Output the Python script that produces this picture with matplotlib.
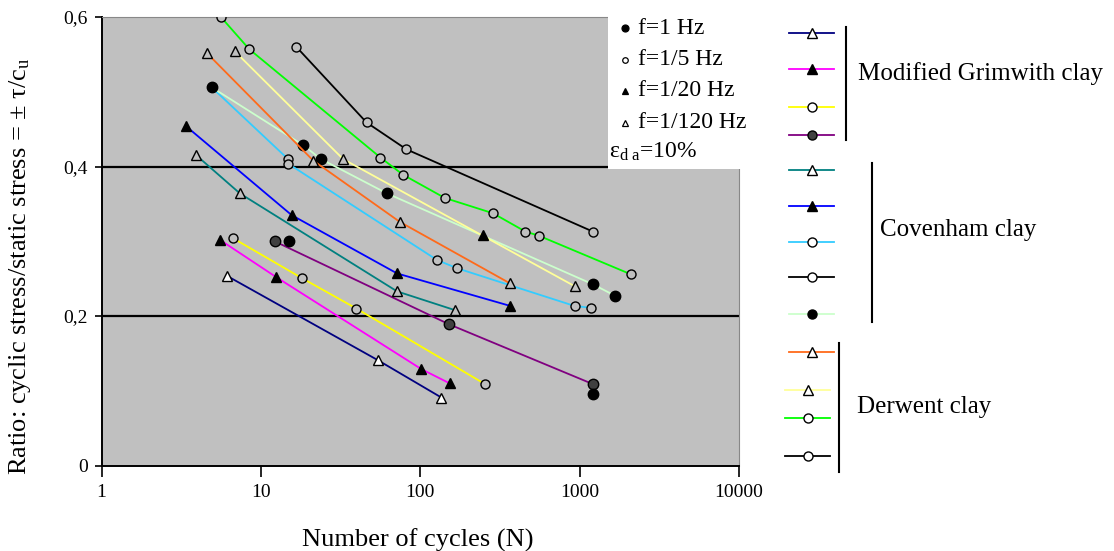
import numpy as np
import matplotlib
matplotlib.use('Agg')
import matplotlib.pyplot as plt
from matplotlib.patches import Rectangle
from matplotlib.ticker import FixedLocator, FixedFormatter, NullLocator

plt.rcParams['font.family'] = ['Liberation Serif', 'DejaVu Serif']
plt.rcParams['mathtext.fontset'] = 'custom'
plt.rcParams['mathtext.rm'] = 'Liberation Serif'
plt.rcParams['mathtext.it'] = 'Liberation Serif'
plt.rcParams['mathtext.default'] = 'regular'

# Modified Grimwith clay
mg_120_n = [6.1, 54.2, 135.8]
mg_120_r = [0.254, 0.141, 0.091]
mg_20_n = [5.53, 12.5, 101.7, 153]
mg_20_r = [0.302, 0.252, 0.129, 0.110]
mg_5_n = [6.7, 18.0, 39.8, 255]
mg_5_r = [0.304, 0.251, 0.210, 0.109]
mg_1_n = [12.2, 151.6, 1211]
mg_1_r = [0.300, 0.189, 0.109]

# Covenham clay
cov_120_n = [3.91, 7.39, 71.6, 164.6]
cov_120_r = [0.4155, 0.364, 0.233, 0.208]
cov_20_n = [3.39, 15.6, 71.6, 368]
cov_20_r = [0.454, 0.335, 0.257, 0.2135]
cov_5_n = [4.91, 14.8, 14.8, 127.4, 170, 930, 1183]
cov_5_r = [0.506, 0.410, 0.404, 0.275, 0.264, 0.2135, 0.211]
cov_1_n = [4.91, 18.3, 23.8, 61.9, 1211, 1675]
cov_1_r = [0.506, 0.429, 0.410, 0.364, 0.2425, 0.227]

# Derwent clay
der_120a_n = [4.57, 21.3, 74.4, 364]
der_120a_r = [0.552, 0.408, 0.326, 0.244]
der_120b_n = [6.87, 32.8, 930]
der_120b_r = [0.554, 0.410, 0.240]
der_5_n = [5.61, 8.45, 56.3, 78, 142.5, 286, 457, 553, 2089]
der_5_r = [0.600, 0.557, 0.412, 0.389, 0.358, 0.3375, 0.313, 0.3076, 0.256]
der_5b_n = [16.7, 46, 81.9, 1211]
der_5b_r = [0.560, 0.459, 0.423, 0.313]

# loose points without a curve
dots_n = [15.0, 1211]
dots_r = [0.300, 0.096]
tri_n = [248]
tri_r = [0.3085]

x_ticks = [1, 10, 100, 1000, 10000]
x_labels = ['1', '10', '100', '1000', '10000']
y_ticks = [0, 0.2, 0.4, 0.6]
y_labels = ['0', '0,2', '0,4', '0,6']

BG = '#c0c0c0'

# (n, r, line colour, marker, marker face)
series = [
    (mg_120_n, mg_120_r, '#000080', '^', 'white'),
    (mg_20_n, mg_20_r, '#ff00ff', '^', 'black'),
    (mg_5_n, mg_5_r, '#ffff00', 'o', BG),
    (mg_1_n, mg_1_r, '#800080', 'o', '#404040'),
    (cov_120_n, cov_120_r, '#008080', '^', BG),
    (cov_20_n, cov_20_r, '#0000ff', '^', 'black'),
    (cov_5_n, cov_5_r, '#33ccff', 'o', BG),
    (cov_1_n, cov_1_r, '#ccffcc', 'o', 'black'),
    (der_120a_n, der_120a_r, '#ff6a1a', '^', BG),
    (der_120b_n, der_120b_r, '#ffff99', '^', BG),
    (der_5_n, der_5_r, '#00ff00', 'o', BG),
    (der_5b_n, der_5b_r, '#000000', 'o', BG),
]

W, H = 1114, 551
fig = plt.figure(figsize=(W / 100, H / 100), dpi=100)
ax = fig.add_axes([101.5 / W, 1 - 465.6 / H, (739 - 101.5) / W, (465.6 - 17) / H])
ax.set_facecolor(BG)

for n, r, col, mk, face in series:
    ms = 7.5 if (mk == '^' or face in ('black', '#404040')) else 6.5
    ax.plot(n, r, color=col, lw=1.3, marker=mk, ms=ms, mfc=face, mec='black',
            mew=1.0, zorder=3)

ax.plot(dots_n, dots_r, ls='none', marker='o', ms=7.5, color='black', zorder=4)
ax.plot(tri_n, tri_r, ls='none', marker='^', ms=7.5, color='black', zorder=4)

ax.set_xscale('log')
ax.set_xlim(1, 10000)
ax.set_ylim(0, 0.6)
ax.xaxis.set_major_locator(FixedLocator(x_ticks))
ax.xaxis.set_major_formatter(FixedFormatter(x_labels))
ax.xaxis.set_minor_locator(NullLocator())
ax.yaxis.set_major_locator(FixedLocator(y_ticks))
ax.yaxis.set_major_formatter(FixedFormatter(y_labels))
ax.tick_params(axis='x', direction='out', length=8, width=1.2, labelsize=14, pad=5)
ax.tick_params(axis='y', direction='out', length=5, width=1.2, labelsize=14, pad=5)
for y in (0.2, 0.4):
    ax.axhline(y, color='black', lw=1.6, zorder=2)
ax.spines['left'].set_linewidth(1.4)
ax.spines['bottom'].set_linewidth(1.4)
ax.spines['top'].set_color('#888888')
ax.spines['right'].set_color('#888888')

fig.text(418 / W, 1 - 540 / H, 'Number of cycles (N)', ha='center', va='center', fontsize=19)
fig.text(20 / W, 1 - 266 / H, 'Ratio: cyclic stress/static stress = ± τ/c$_u$',
         ha='center', va='center', rotation=90, fontsize=19)

###### Key panels, drawn in pixel coordinates
key = fig.add_axes([0, 0, 1, 1], zorder=5)
key.set_xlim(0, W)
key.set_ylim(H, 0)
key.axis('off')

key.add_patch(Rectangle((608, 0), 152, 169, facecolor='white', edgecolor='none'))
freq_rows = [('o', 'black', 5, 'f=1 Hz'), ('o', 'white', 4, 'f=1/5 Hz'),
             ('^', 'black', 5, 'f=1/20 Hz'), ('^', 'white', 5, 'f=1/120 Hz')]
for i, (mk, face, ms, txt) in enumerate(freq_rows):
    y = 28 + i * 31.5
    key.plot([625], [y], marker=mk, ms=ms, mfc=face, mec='black', mew=0.9, ls='none')
    key.text(638, y, txt, fontsize=17, va='center', ha='left')
key.text(609, 152, 'ε$_{d\\ a}$=10%', fontsize=17, va='center', ha='left')

# one row per key entry; the Covenham block has an extra black open-circle row
key_series = series[:7] + [(None, None, '#000000', 'o', 'white')] + series[7:]
key_rows = [33, 69, 107, 135, 170, 206, 242, 277, 314, 352, 390, 418, 456]
key_x = [(789, 834)] * 10 + [(785, 830)] * 3
for (n, r, col, mk, face), y, (x0, x1) in zip(key_series, key_rows, key_x):
    kface = 'white' if face == BG else face
    key.plot([x0, x1], [y, y], color=col, lw=1.3)
    key.plot([(x0 + x1) / 2], [y], marker=mk, ms=6.5, mfc=kface, mec='black', mew=1.0)

key.plot([846, 846], [27, 140], color='black', lw=1.5)
key.plot([872, 872], [163, 322], color='black', lw=1.5)
key.plot([839, 839], [343, 472], color='black', lw=1.5)
key.text(858, 74, 'Modified Grimwith clay', fontsize=18, va='center', ha='left')
key.text(880, 230, 'Covenham clay', fontsize=18, va='center', ha='left')
key.text(857, 407, 'Derwent clay', fontsize=18, va='center', ha='left')

fig.savefig('out.png', dpi=100)
